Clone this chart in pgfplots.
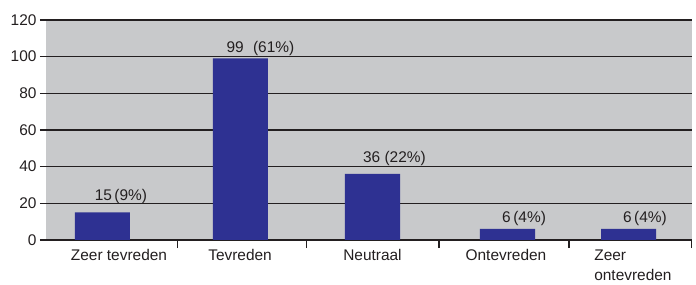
\documentclass[border=0pt]{standalone}
\usepackage{pgfplots}
\pgfplotsset{compat=1.18}
\usepackage{fontspec}
\setmainfont{Liberation Sans}
\definecolor{bg}{HTML}{C8C9CB}
\definecolor{barc}{HTML}{2E3192}
\definecolor{ink}{HTML}{231F20}
\begin{document}
\begin{tikzpicture}
\useasboundingbox (-46bp,-45bp) rectangle (650bp,240bp);
\begin{axis}[
  at={(0,0)}, anchor=south west,
  scale only axis, width=646bp, height=220bp,
  xmin=-0.5, xmax=4.5, ymin=0, ymax=120,
  axis x line*=bottom, axis y line*=left,
  y axis line style={draw=none},
  x axis line style={ink, line width=1.5bp, -},
  axis background/.style={fill=bg},
  ytick={0,20,...,120},
  ymajorgrids, grid style={ink, line width=1.5bp},
  tick align=outside,
  major tick length=6bp,
  ytick style={ink, line width=1.5bp},
  xtick={0.065,1.002,2.027,3.06,4.043},
  xticklabels={Zeer tevreden,Tevreden,Neutraal,Ontevreden,{Zeer\\ontevreden}},
  xtick style={draw=none},
  extra x ticks={0.519,1.518,2.542,3.548,4.498},
  extra x tick labels={},
  extra x tick style={major tick length=8bp, xtick style={draw=ink, line width=1.5bp}, grid=none},
  /pgf/number format/assume math mode=true,
  ticklabel style={font=\fontsize{15.5}{20.5}\selectfont, text=ink},
  xticklabel style={align=left},
]
\addplot[ybar, bar width=0.426, fill=barc, draw=none] table {
x y
-0.063 15
1.005 99
2.027 36
3.072 6
4.009 6
};
\addplot[draw=none, mark=none, nodes near coords, point meta=explicit symbolic,
  every node near coord/.append style={anchor=base, inner sep=0pt, text=ink, font=\fontsize{15.5}{18}\selectfont}]
coordinates {
(0.080,21.8) [15\,(9\%)]
(1.160,102) [99\hspace{5bp} (61\%)]
(2.197,42.5) [36 (22\%)]
(3.200,9.8) [6\,(4\%)]
(4.136,9.8) [6\,(4\%)]
};
\end{axis}
\end{tikzpicture}
\end{document}
